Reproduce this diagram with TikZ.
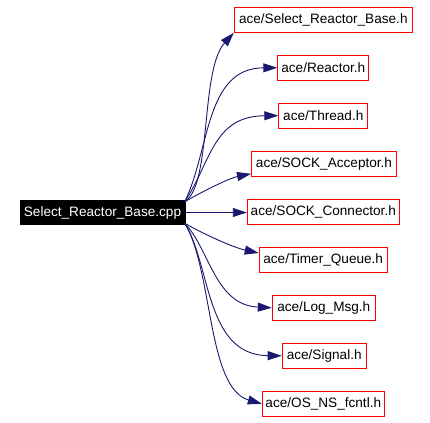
\documentclass[tikz,border=0pt]{standalone}
\usepackage{fontspec}
\setmainfont{Liberation Sans}
\usetikzlibrary{arrows.meta}
\definecolor{edgeblue}{RGB}{25,25,112}
\tikzset{
  hdr/.style={draw=red, line width=1pt, fill=white, inner sep=0pt,
    minimum height=25pt, font=\fontsize{13.6}{16}\selectfont},
  src/.style={fill=black, text=white, inner sep=0pt,
    minimum height=25pt, font=\fontsize{13.6}{16}\selectfont},
  dep/.style={draw=edgeblue, line width=0.9pt,
    -{Triangle[length=14pt,width=9pt]}}
}
\begin{document}
\begin{tikzpicture}[x=1pt, y=-1pt]
  \useasboundingbox[fill=white] (0,0) rectangle (430,422);
      %% source file
      \node[src, minimum width=166pt] (cpp) at (102.5, 212.5) {Select\_Reactor\_Base.cpp};
      %% included headers
      \node[hdr, minimum width=178pt] (srb) at (323.3, 19.8) {ace/Select\_Reactor\_Base.h};
      \node[hdr, minimum width=91pt] (reactor) at (323.3, 67.8) {ace/Reactor.h};
      \node[hdr, minimum width=89pt] (thread) at (323.3, 115.7) {ace/Thread.h};
      \node[hdr, minimum width=145pt] (acceptor) at (324, 163.8) {ace/SOCK\_Acceptor.h};
      \node[hdr, minimum width=152pt] (connector) at (323.3, 211.7) {ace/SOCK\_Connector.h};
      \node[hdr, minimum width=128pt] (timerq) at (323.2, 260) {ace/Timer\_Queue.h};
      \node[hdr, minimum width=103pt] (logmsg) at (323.8, 307.8) {ace/Log\_Msg.h};
      \node[hdr, minimum width=84pt] (signal) at (324.2, 355.8) {ace/Signal.h};
      \node[hdr, minimum width=122pt] (fcntl) at (323.3, 403.8) {ace/OS\_NS\_fcntl.h};

      %% edges upward
      \draw[dep] ([xshift=-1pt,yshift=-2pt]cpp.north east) .. controls (212, 185) and (200, 70) .. (srb.south west);
      \draw[dep] ([xshift=-1pt,yshift=-2pt]cpp.north east) .. controls (210, 150) and (205, 68) .. (reactor.west);
      \draw[dep] ([xshift=-1pt,yshift=-2pt]cpp.north east) .. controls (211, 162) and (213, 116) .. (thread.west);
      \draw[dep] ([xshift=-1pt,yshift=-2pt]cpp.north east) .. controls (205, 190) and (230, 178) .. ([yshift=3pt]acceptor.south west);
      %% straight edge
      \draw[dep] (cpp.east) -- (connector.west |- cpp.east);
      %% edges downward
      \draw[dep] ([xshift=-1pt,yshift=2pt]cpp.south east) .. controls (205, 235) and (235, 248) .. ([yshift=-6pt]timerq.north west);
      \draw[dep] ([xshift=-1pt,yshift=2pt]cpp.south east) .. controls (210, 250) and (215, 305) .. (logmsg.west);
      \draw[dep] ([xshift=-1pt,yshift=2pt]cpp.south east) .. controls (211, 265) and (205, 355) .. (signal.west);
      \draw[dep] ([xshift=-1pt,yshift=2pt]cpp.south east) .. controls (213, 270) and (207, 388) .. (fcntl.west);
\end{tikzpicture}
\end{document}
